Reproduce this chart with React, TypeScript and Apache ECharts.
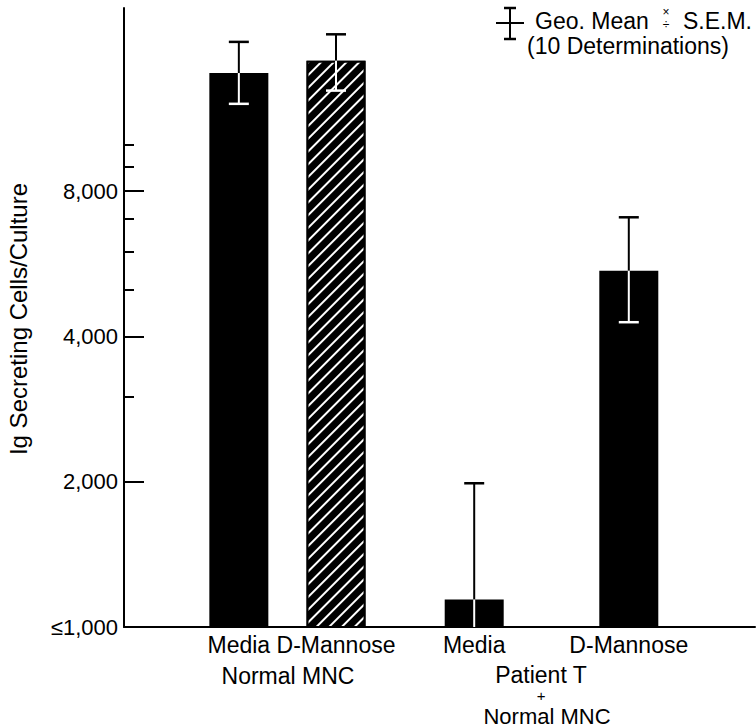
import React, { useEffect, useRef } from 'react';
import * as echarts from 'echarts';

// ---- data ----
const categories = ['Media', 'D-Mannose', 'Media', 'D-Mannose'];
const slotPositions = [18.2, 33.6, 55.5, 80.0]; // positions of the bars along the (hidden) x value axis
const geoMeans = [14050, 14900, 1140, 5470];
const upperSEM = [16300, 16900, 1985, 7060];
const lowerSEM = [12130, 12920, 655, 4280];
const hatched = [false, true, false, false];
const yLabelValues = [1000, 2000, 4000, 8000];
const yMajorTicks = [2000, 4000, 8000];
const yMinorTicks = [3000, 5000, 6000, 7000, 9000, 10000];
const Y_MIN = 1000;
const Y_MAX = 19160;
const yTitle = 'Ig Secreting Cells/Culture';
const groupLabels = ['Normal MNC', 'Patient T', '+', 'Normal MNC'];
const legendLine1 = 'Geo. Mean';
const legendLine1b = 'S.E.M.';
const legendLine2 = '(10 Determinations)';

const FONT = '"Liberation Sans", Arial, Helvetica, sans-serif';

export default function App() {
  const ref = useRef<HTMLDivElement>(null);
  useEffect(() => {
    document.body.style.margin = '0';
    const chart = echarts.init(ref.current!, undefined, { renderer: 'svg' });

    const barData = slotPositions.map((x, i) => {
      const item: any = { value: [x, geoMeans[i]] };
      if (hatched[i]) {
        item.itemStyle = {
          color: '#000',
          borderColor: '#000',
          borderWidth: 2,
          decal: {
            symbol: 'rect',
            symbolSize: 1,
            color: '#fff',
            dashArrayX: [1, 0],
            dashArrayY: [1.6, 6.4],
            rotation: -Math.PI / 4,
          },
        };
      }
      return item;
    });

    const errData = slotPositions.map((x, i) => [x, geoMeans[i], upperSEM[i], lowerSEM[i]]);

    const txt = (text: string, x: number, y: number, fontSize: number, align = 'center', lineHeight?: number) => ({
      type: 'text',
      x,
      y,
      style: {
        text,
        fontSize,
        lineHeight: lineHeight ?? fontSize,
        fontFamily: FONT,
        fill: '#000',
        align,
        verticalAlign: 'middle',
      },
    });

    const option: any = {
      animation: false,
      textStyle: { fontFamily: FONT },
      grid: { left: 124, right: 1, top: 8, bottom: 100, containLabel: false },
      xAxis: {
        type: 'value',
        min: 0,
        max: 100,
        axisLine: { show: true, onZero: false, lineStyle: { color: '#000', width: 2 } },
        axisTick: { show: false },
        splitLine: { show: false },
        axisLabel: {
          customValues: slotPositions,
          margin: 6,
          color: '#000',
          fontSize: 23,
          fontFamily: FONT,
          formatter: (v: number) => {
            const idx = slotPositions.findIndex((p) => Math.abs(p - v) < 1e-6);
            return idx >= 0 ? categories[idx] : '';
          },
        },
      },
      yAxis: [
        {
          type: 'log',
          logBase: 10,
          min: Y_MIN,
          max: Y_MAX,
          axisLine: { show: true, lineStyle: { color: '#000', width: 2 } },
          axisTick: {
            show: true,
            inside: true,
            length: 20,
            lineStyle: { color: '#000', width: 2 },
            customValues: yMajorTicks,
          },
          axisLabel: {
            customValues: yLabelValues,
            margin: 6,
            color: '#000',
            fontSize: 22,
            fontFamily: FONT,
            formatter: (v: number) => {
              const r = Math.round(v);
              return r === Y_MIN ? '\u22641,000' : r.toLocaleString('en-US');
            },
          },
          splitLine: { show: false },
        },
        {
          type: 'log',
          logBase: 10,
          min: Y_MIN,
          max: Y_MAX,
          position: 'left',
          offset: 0,
          axisLine: { show: false },
          axisTick: {
            show: true,
            inside: true,
            length: 10,
            lineStyle: { color: '#000', width: 2 },
            customValues: yMinorTicks,
          },
          axisLabel: { show: false },
          splitLine: { show: false },
        },
      ],
      series: [
        {
          type: 'bar',
          data: barData,
          barWidth: 59,
          clip: true,
          itemStyle: { color: '#000' },
          z: 2,
        },
        {
          type: 'custom',
          data: errData,
          clip: true,
          z: 5,
          renderItem: (params: any, api: any) => {
            const x = api.value(0);
            const mean = api.value(1);
            const hi = api.value(2);
            const lo = api.value(3);
            const pTop = api.coord([x, hi]);
            const pMean = api.coord([x, mean]);
            const pLo = api.coord([x, Math.max(lo, Y_MIN)]);
            const cx = pMean[0];
            const capHalf = 10;
            const children: any[] = [
              { type: 'line', shape: { x1: cx, y1: pTop[1], x2: cx, y2: pMean[1] }, style: { stroke: '#000', lineWidth: 2 } },
              { type: 'line', shape: { x1: cx - capHalf, y1: pTop[1], x2: cx + capHalf, y2: pTop[1] }, style: { stroke: '#000', lineWidth: 2.5 } },
              { type: 'line', shape: { x1: cx, y1: pMean[1], x2: cx, y2: pLo[1] }, style: { stroke: '#fff', lineWidth: 2 } },
            ];
            if (lo >= Y_MIN) {
              children.push({ type: 'line', shape: { x1: cx - capHalf, y1: pLo[1], x2: cx + capHalf, y2: pLo[1] }, style: { stroke: '#fff', lineWidth: 2.5 } });
            }
            return { type: 'group', children };
          },
        },
      ],
      graphic: [
        {
          type: 'text',
          x: 18,
          y: 319,
          rotation: Math.PI / 2,
          style: { text: yTitle, fontSize: 24, fontFamily: FONT, fill: '#000', align: 'center', verticalAlign: 'middle' },
        },
        txt(groupLabels[0], 288, 676, 23),
        txt(groupLabels[1], 541, 674.5, 23),
        txt(groupLabels[2], 541, 695, 15),
        txt(groupLabels[3], 547, 716, 22),
        // legend symbol
        { type: 'line', shape: { x1: 496, y1: 23, x2: 524, y2: 23 }, style: { stroke: '#000', lineWidth: 2 } },
        { type: 'line', shape: { x1: 510, y1: 8, x2: 510, y2: 39 }, style: { stroke: '#000', lineWidth: 2 } },
        { type: 'line', shape: { x1: 504, y1: 8, x2: 516, y2: 8 }, style: { stroke: '#000', lineWidth: 2.5 } },
        { type: 'line', shape: { x1: 504, y1: 39, x2: 516, y2: 39 }, style: { stroke: '#000', lineWidth: 2.5 } },
        txt(legendLine1, 535, 21, 23, 'left'),
        txt('\u00d7', 666, 12, 12),
        txt('\u00f7', 666, 25, 12),
        txt(legendLine1b, 752, 21, 23, 'right'),
        txt(legendLine2, 527, 46, 23, 'left'),
      ],
    };

    chart.setOption(option);
    return () => chart.dispose();
  }, []);

  return <div ref={ref} style={{ width: 756, height: 727 }} />;
}
